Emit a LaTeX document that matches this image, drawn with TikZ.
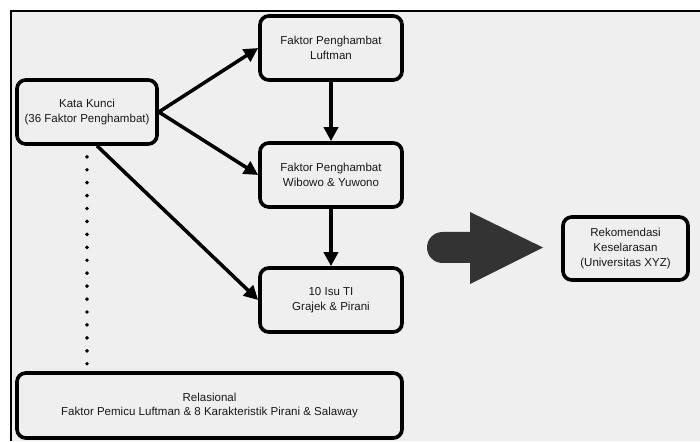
\documentclass[tikz,border=0pt]{standalone}
\usepackage{fontspec}
\setmainfont{Liberation Sans}
\usepackage{tikz}
\usetikzlibrary{calc}
\usetikzlibrary{positioning}
\usetikzlibrary{arrows.meta}
\definecolor{latar}{RGB}{239,239,239}
\definecolor{teks}{RGB}{25,25,25}
\definecolor{panah}{RGB}{51,51,51}
\tikzset{
  kotak/.style={draw=black, line width=2.6pt, rounded corners=0.22cm, fill=latar,
    text=teks, align=center, inner sep=2pt, font=\fontsize{8.2}{10.6}\selectfont},
  alur/.style={line width=2.5pt, -{Triangle[length=10pt,width=10pt]}},
}

\begin{document}
\begin{tikzpicture}[>=stealth, scale=1]
\useasboundingbox (0,0) rectangle (17.5,11.025);
\fill[latar] (0.275,0) rectangle (17.5,10.75);
\draw[line width=1.6pt] (0.275,0) -- (0.275,10.75) -- (17.5,10.75);

        \node[kotak, minimum width=3.5cm, minimum height=1.6cm] (kata) at (2.175,8.225) {Kata Kunci\\(36 Faktor Penghambat)};
        \node[kotak, minimum width=3.55cm, minimum height=1.6cm] (luftman) at (8.275,9.825) {Faktor Penghambat\\Luftman};
        \node[kotak, minimum width=3.55cm, minimum height=1.6cm] (wibowo) at (8.275,6.65) {Faktor Penghambat\\Wibowo \& Yuwono};
        \node[kotak, minimum width=3.55cm, minimum height=1.6cm] (isu) at (8.275,3.525) {10 Isu TI\\Grajek \& Pirani};
        \node[kotak, minimum width=9.625cm, minimum height=1.625cm] (relasi) at (5.2375,0.8875) {Relasional\\Faktor Pemicu Luftman \& 8 Karakteristik Pirani \& Salaway};
        \node[kotak, minimum width=3.125cm, minimum height=1.575cm] (rekom) at (15.6375,4.8125) {Rekomendasi\\Keselarasan\\(Universitas XYZ)};

        \draw[alur] (kata.east) -- (luftman.west);
        \draw[alur] (kata.east) -- (wibowo.west);
        \draw[alur] ($(kata.south)+(0.25,0)$) -- (isu.west);
        \draw[alur] (luftman.south) -- (wibowo.north);
        \draw[alur] (wibowo.south) -- (isu.north);

\draw[line width=2.8pt, line cap=round, dash pattern=on 0pt off 9.2pt, dash phase=1.4pt] (kata.south) -- (kata.south |- relasi.north);

% panah besar
\fill[panah] (11.0625,5.225) -- (11.75,5.225) -- (11.75,5.725) -- (13.575,4.8375) -- (11.75,3.925) -- (11.75,4.45) -- (11.0625,4.45) arc[start angle=270, end angle=90, radius=0.3875] -- cycle;
\end{tikzpicture}
\end{document}
